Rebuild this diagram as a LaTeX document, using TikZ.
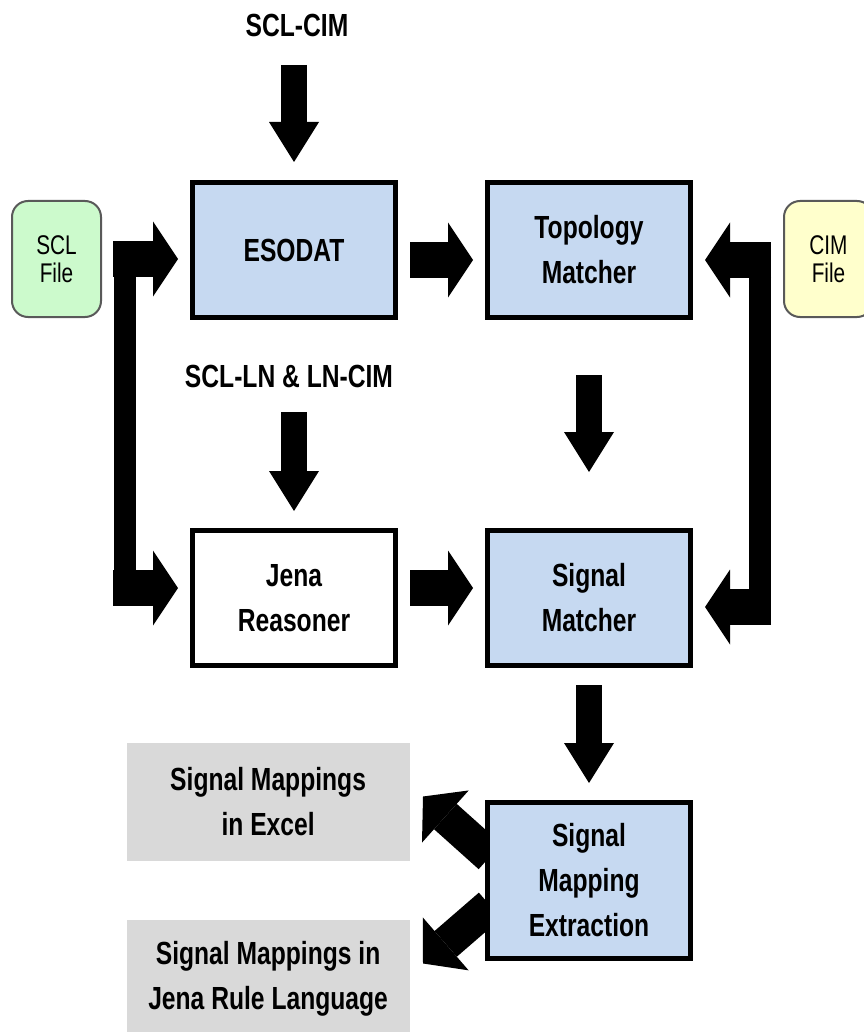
\documentclass[tikz,border=0pt]{standalone}
\usepackage{fontspec}
\setmainfont[FakeStretch=0.77]{Liberation Sans}
\usepackage{tikz}
\usetikzlibrary{arrows.meta,positioning,calc,backgrounds}
\definecolor{boxblue}{HTML}{C6D9F1}
\definecolor{filegreen}{HTML}{CCFACC}
\definecolor{fileyellow}{HTML}{FFFFCC}
\definecolor{outgray}{HTML}{D9D9D9}

\begin{document}
\begin{tikzpicture}[
  blk/.style={draw,line width=2.5pt,fill=boxblue,
              minimum width=101.5pt,minimum height=67.5pt,
              align=center,font=\fontsize{16}{22.5}\selectfont\bfseries},
  src/.style={draw=black!65,line width=1pt,rounded corners=8pt,
              minimum width=44.5pt,minimum height=58pt,
              align=center,font=\fontsize{13.5}{14}\selectfont},
  res/.style={fill=outgray,minimum width=141.5pt,minimum height=59pt,
              align=center,font=\fontsize{16}{22.5}\selectfont\bfseries},
  lbl/.style={anchor=base,font=\fontsize{16}{22.5}\selectfont\bfseries},
  varr/.style={line width=13pt,-{Triangle[length=20pt,width=25pt,line width=0pt]}},
  harr/.style={line width=18pt,-{Triangle[length=12.5pt,width=37.5pt,line width=0pt]}},
  darr/.style={line width=17pt,-{Triangle[length=15pt,width=35pt,line width=0pt]}},
  bar/.style={line width=11pt}
]
\useasboundingbox (0,0) rectangle (431.5pt,-516pt);

\node[blk] (esodat) at (147pt,-125pt) {ESODAT};
\node[blk,right=43.5pt of esodat] (topo) {Topology\\Matcher};
\node[blk,fill=white,below=104pt of esodat] (jena) {Jena\\Reasoner};
\node[blk,below=104pt of topo] (sigm) {Signal\\Matcher};
\node[blk,below=66pt of sigm,minimum height=78pt] (sme) {Signal\\Mapping\\Extraction};

\node[src,fill=filegreen,left=44pt of esodat,yshift=-4.5pt] (scl) {SCL\\File};
\node[src,fill=fileyellow,right=45pt of topo,yshift=-4.5pt] (cim) {CIM\\File};

\node[res,left=37.5pt of sme.north west,yshift=-1pt] (excel) {Signal Mappings\\in Excel};
\node[res,left=37.5pt of sme.south west,yshift=-9pt] (rules) {Signal Mappings in\\Jena Rule Language};

\node[lbl] (lblscl) at ($(esodat.north)+(1.5pt,71.5pt)$) {SCL-CIM};
\node[lbl] (lblln) at ($(jena.north)+(-2.5pt,70.5pt)$) {SCL-LN \& LN-CIM};

% inputs from the top
\draw[varr] ($(esodat.north)+(0,57.5pt)$) -- ($(esodat.north)+(0,9pt)$);
\draw[varr] ($(jena.north)+(0,58pt)$) -- ($(jena.north)+(0,8.5pt)$);

% main flow
\draw[harr] ($(esodat.east)+(6pt,-5pt)$) -- ($(topo.west)+(-6pt,-5pt)$);
\draw[harr] ($(jena.east)+(6pt,5pt)$) -- ($(sigm.west)+(-6pt,5pt)$);
\draw[varr] ($(topo.south)+(0,-27.5pt)$) -- ($(sigm.north)+(0,28pt)$);
\draw[varr] ($(sigm.south)+(0,-8.5pt)$) -- ($(sme.north)+(0,8.5pt)$);

% SCL file feeds ESODAT and Jena
\draw[bar] ($(esodat.west)+(-32.5pt,4.5pt)$) -- ($(jena.west)+(-32.5pt,-4pt)$);
\draw[harr] ($(esodat.west)+(-38.5pt,-4.5pt)$) -- ($(esodat.west)+(-6pt,-4.5pt)$);
\draw[harr] ($(jena.west)+(-38.5pt,5pt)$) -- ($(jena.west)+(-6pt,5pt)$);

% CIM file feeds both matchers
\draw[bar] ($(topo.east)+(33.5pt,4pt)$) -- ($(sigm.east)+(33.5pt,-13pt)$);
\draw[harr] ($(topo.east)+(39pt,-5pt)$) -- ($(topo.east)+(6pt,-5pt)$);
\draw[harr] ($(sigm.east)+(39pt,-4.5pt)$) -- ($(sigm.east)+(6pt,-4.5pt)$);

% outputs
\begin{scope}[on background layer]
\draw[darr] ($(sme.west)+(2.5pt,12pt)$) -- ($(sme.west)+(-31pt,42pt)$);
\draw[darr] ($(sme.west)+(2.5pt,-12.5pt)$) -- ($(sme.west)+(-31pt,-41.5pt)$);
\end{scope}
\end{tikzpicture}
\end{document}
